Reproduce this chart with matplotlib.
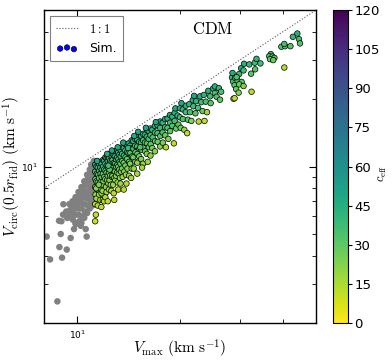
import matplotlib
matplotlib.use("Agg")
import matplotlib.pyplot as plt
from matplotlib.ticker import FixedLocator, NullFormatter, LogFormatterMathtext

plt.rcParams['mathtext.fontset'] = 'cm'
plt.rcParams['font.family'] = ['DejaVu Sans']

# ---------------- data ----------------
sim_vmax = [
    11.3, 11.3, 11.32, 11.3, 11.33, 11.3, 11.35, 11.3, 11.4, 11.42,
    11.4, 11.45, 11.4, 11.5, 11.5, 11.52, 11.5, 11.55, 11.5, 11.6,
    11.62, 11.6, 11.65, 11.6, 11.7, 11.7, 11.72, 11.7, 11.75, 11.7,
    11.8, 11.82, 11.8, 11.85, 11.8, 11.9, 11.92, 11.9, 11.95, 11.9,
    12.0, 12.0, 12.02, 12.0, 12.0, 11.45, 11.38, 11.58, 11.78, 11.88,
    12.1, 12.1, 12.12, 12.1, 12.15, 12.1, 12.2, 12.22, 12.2, 12.25,
    12.2, 12.3, 12.3, 12.32, 12.3, 12.35, 12.3, 12.4, 12.42, 12.4,
    12.45, 12.4, 12.5, 12.5, 12.52, 12.5, 12.55, 12.6, 12.62, 12.6,
    12.65, 12.6, 12.7, 12.7, 12.72, 12.7, 12.75, 12.8, 12.82, 12.8,
    12.85, 12.8, 12.9, 12.9, 12.92, 12.9, 12.95, 13.0, 13.0, 13.0,
    12.25, 12.65, 12.45, 12.85, 12.35,
    13.1, 13.1, 13.12, 13.1, 13.15, 13.2, 13.22, 13.2, 13.25, 13.2,
    13.3, 13.3, 13.32, 13.3, 13.35, 13.4, 13.42, 13.4, 13.45, 13.4,
    13.55, 13.55, 13.57, 13.55, 13.6, 13.7, 13.72, 13.7, 13.75, 13.7,
    13.85, 13.85, 13.87, 13.85, 13.9, 14.0, 14.02, 14.0, 14.05, 14.15,
    14.15, 14.2, 14.2, 14.3, 14.32, 14.3, 14.45, 14.45, 14.47, 14.45,
    13.95, 14.4, 13.65, 13.15, 14.1,
    14.6, 14.62, 14.6, 14.65, 14.8, 14.8, 14.82, 14.8, 15.0, 15.0,
    15.02, 15.0, 15.0, 15.2, 15.2, 15.22, 15.2, 15.4, 15.4, 15.42,
    15.4, 15.6, 15.6, 15.62, 15.6, 15.8, 15.8, 15.82, 16.0, 16.0,
    16.02, 16.0, 16.2, 16.2, 16.22, 16.4, 16.4, 16.42, 16.4, 15.1,
    15.5, 16.1, 14.7, 15.9, 15.3,
    16.6, 16.65, 16.6, 16.9, 16.9, 16.92, 16.9, 17.2, 17.2, 17.22,
    17.5, 17.5, 17.52, 17.5, 17.8, 17.8, 17.82, 18.1, 18.1, 18.12,
    18.2, 18.4, 18.4, 18.7, 18.7, 18.72, 19.0, 19.0, 19.2, 19.3,
    19.3, 19.5, 17.0, 18.5, 19.4,
    19.7, 19.8, 20.0, 20.0, 20.1, 20.4, 20.4, 20.6, 20.8, 20.8,
    21.1, 21.3, 21.4, 21.6, 21.8, 21.9, 22.2, 22.3, 22.6, 22.7,
    22.9, 23.1, 23.3, 23.5, 23.8, 24.0, 20.2, 21.0, 22.0, 23.6,
    24.5, 24.6, 25.0, 25.3, 25.3, 25.6, 26.0, 26.2, 26.4, 24.2,
    28.4, 28.6, 28.9, 29.0, 29.2, 29.5, 29.7, 29.8, 30.2, 30.3,
    28.7, 28.5,
    30.8, 31.9, 33.1, 34.4, 33.2, 32.3, 30.7, 32.4, 28.9, 36.9,
    36.5, 37.3, 37.8, 36.7, 37.5, 40.4, 39.6, 40.6, 42.1, 40.4,
    44.1, 42.8, 44.6, 44.9, 29.3, 29.8, 30.7, 33.5,
]
sim_vcirc = [
    10.2, 9.5, 8.8, 8.1, 7.5, 6.8, 6.1, 5.7, 10.0, 9.3,
    8.6, 7.9, 7.2, 10.5, 9.9, 9.2, 8.5, 7.9, 6.7, 10.3,
    9.6, 8.9, 8.3, 7.5, 10.5, 9.9, 9.3, 8.5, 7.9, 7.1,
    10.3, 9.7, 9.0, 8.3, 7.6, 10.7, 10.0, 9.3, 8.6, 7.1,
    10.6, 9.7, 9.0, 7.9, 7.0, 10.6, 8.0, 8.3, 6.6, 7.8,
    11.0, 10.3, 9.6, 8.8, 8.1, 7.3, 10.9, 10.1, 9.4, 8.7,
    7.7, 11.1, 10.6, 9.9, 9.1, 8.4, 7.0, 10.9, 10.2, 9.4,
    8.7, 7.9, 11.4, 10.6, 9.9, 9.1, 8.3, 11.2, 10.5, 9.7,
    9.0, 7.8, 11.4, 10.7, 9.9, 9.1, 8.3, 11.3, 10.4, 9.6,
    8.9, 7.6, 11.7, 11.1, 10.3, 9.5, 8.7, 10.8, 10.0, 9.1,
    11.4, 11.8, 9.7, 7.1, 10.1,
    11.8, 11.0, 10.2, 9.4, 8.5, 11.6, 10.8, 10.0, 9.3, 7.9,
    12.1, 11.3, 10.5, 9.7, 8.9, 11.9, 11.1, 10.3, 9.5, 8.4,
    12.2, 11.4, 10.6, 9.8, 9.0, 12.1, 11.2, 10.4, 9.5, 7.9,
    12.6, 11.8, 11.0, 10.1, 9.2, 12.5, 11.6, 10.8, 9.8, 12.7,
    11.5, 10.5, 9.1, 12.4, 11.5, 10.3, 13.1, 12.1, 11.1, 9.8,
    8.4, 8.9, 12.8, 12.2, 12.1,
    13.0, 12.0, 11.0, 9.8, 13.3, 12.4, 11.6, 10.5, 13.2, 12.3,
    11.4, 10.4, 9.3, 13.8, 12.9, 12.0, 11.1, 13.7, 12.8, 11.9,
    10.8, 14.0, 13.1, 12.2, 10.3, 13.9, 12.8, 11.7, 14.6, 13.6,
    12.7, 11.4, 14.4, 13.3, 12.2, 14.8, 13.8, 12.6, 11.2, 14.3,
    9.9, 10.5, 13.7, 14.9, 12.2,
    14.6, 13.5, 12.1, 15.2, 14.2, 13.0, 11.7, 15.3, 14.1, 12.9,
    15.9, 14.9, 13.7, 12.3, 15.7, 14.2, 12.8, 16.3, 15.0, 13.8,
    12.2, 16.4, 14.9, 17.0, 15.7, 14.4, 16.7, 15.2, 12.7, 17.4,
    16.0, 14.8, 15.8, 13.3, 18.2,
    16.9, 15.4, 18.2, 16.6, 14.9, 18.0, 16.3, 14.6, 18.7, 17.5,
    16.2, 19.0, 17.5, 16.0, 19.8, 18.6, 17.3, 19.6, 18.3, 15.9,
    20.6, 19.4, 17.7, 20.9, 19.5, 17.5, 19.2, 14.1, 20.7, 16.0,
    20.6, 19.2, 22.3, 22.8, 21.3, 20.5, 22.4, 19.9, 21.6, 21.8,
    25.0, 24.0, 23.1, 24.9, 22.2, 24.2, 21.4, 25.9, 27.5, 23.9,
    20.1, 26.2,
    28.8, 28.6, 29.1, 28.9, 27.2, 26.0, 26.9, 21.6, 20.2, 31.8,
    31.1, 31.0, 30.6, 30.2, 29.9, 27.7, 34.3, 34.5, 34.5, 35.3,
    39.3, 38.0, 37.1, 35.5, 25.1, 23.3, 22.9, 30.3,
]
sim_ceff = [
    44, 37, 31, 24, 19, 15, 11, 10, 42, 34,
    28, 22, 18, 45, 39, 33, 27, 21, 14, 43,
    36, 30, 24, 19, 44, 38, 32, 26, 20, 16,
    40, 34, 29, 23, 18, 44, 37, 31, 25, 15,
    42, 34, 28, 19, 13, 48, 23, 24, 12, 19,
    45, 38, 32, 26, 20, 15, 43, 36, 30, 24,
    17, 44, 39, 33, 27, 21, 12, 42, 35, 29,
    23, 18, 45, 38, 32, 26, 19, 43, 36, 30,
    24, 16, 44, 37, 31, 25, 19, 42, 34, 28,
    22, 14, 45, 39, 33, 27, 20, 36, 30, 23,
    48, 49, 31, 11, 35,
    44, 37, 31, 25, 19, 42, 35, 29, 23, 14,
    45, 38, 32, 26, 20, 43, 36, 30, 24, 17,
    44, 37, 31, 25, 19, 42, 35, 29, 22, 13,
    45, 38, 32, 26, 19, 43, 36, 30, 23, 44,
    34, 27, 18, 40, 33, 25, 45, 37, 30, 21,
    15, 16, 49, 48, 39,
    43, 35, 28, 20, 44, 37, 31, 24, 42, 35,
    29, 22, 16, 45, 38, 32, 26, 43, 36, 30,
    23, 44, 37, 31, 19, 42, 34, 27, 45, 38,
    32, 24, 43, 35, 28, 44, 37, 30, 21, 50,
    18, 19, 48, 49, 33,
    42, 34, 26, 44, 37, 30, 22, 43, 35, 28,
    45, 38, 31, 23, 42, 33, 25, 44, 36, 29,
    14, 43, 34, 45, 37, 30, 42, 33, 12, 44,
    36, 29, 48, 24, 50,
    39, 31, 45, 36, 27, 42, 33, 19, 44, 37,
    30, 43, 35, 23, 45, 38, 31, 42, 34, 14,
    44, 37, 29, 43, 35, 18, 49, 13, 48, 12,
    37, 31, 43, 44, 36, 33, 39, 29, 34, 44,
    40, 36, 33, 38, 29, 34, 23, 39, 45, 32,
    14, 46,
    44, 40, 38, 36, 33, 31, 37, 14, 12, 36,
    34, 33, 31, 30, 29, 14, 34, 33, 31, 36,
    44, 40, 37, 33, 33, 28, 23, 42,
]

gray_vmax = [
    11.3, 11.25, 11.3, 11.28, 11.3, 11.25, 11.32,
    11.1, 11.15, 11.1, 11.12, 11.1, 11.15, 11.1,
    10.9, 10.95, 10.9, 10.92, 10.9, 10.95, 10.9,
    10.7, 10.75, 10.7, 10.72, 10.7, 10.75, 10.7,
    10.5, 10.55, 10.5, 10.52, 10.5, 10.55, 10.5,
    10.3, 10.35, 10.3, 10.32, 10.3, 10.35, 10.3,
    10.1, 10.15, 10.1, 10.12, 10.1, 10.15,
    9.9, 9.95, 9.9, 9.92, 9.9,
    9.7, 9.75, 9.7, 9.72,
    9.5, 9.55, 9.5,
    9.3, 9.35, 9.1, 9.0,
    8.15, 8.34, 8.76, 8.88, 9.04, 9.33, 9.58, 10.67, 8.96, 8.86,
    9.12, 9.91, 9.8, 10.6, 10.25, 9.58, 11.0, 11.2,
]
gray_vcirc = [
    10.4, 9.9, 9.3, 8.7, 8.1, 7.6, 7.2,
    10.1, 9.6, 9.0, 8.4, 7.8, 7.2, 6.7,
    9.7, 9.2, 8.7, 8.1, 7.5, 7.0, 6.5,
    9.2, 8.8, 8.3, 7.7, 7.2, 6.7, 6.2,
    8.6, 8.2, 7.8, 7.3, 6.8, 6.3, 5.9,
    8.1, 7.7, 7.3, 6.9, 6.5, 6.0, 5.6,
    7.7, 7.3, 6.9, 6.5, 6.1, 5.7,
    7.3, 6.9, 6.5, 6.1, 5.6,
    7.0, 6.6, 6.2, 5.8,
    6.8, 6.4, 6.0,
    6.3, 5.9, 6.1, 5.7,
    4.87, 3.85, 2.50, 4.37, 3.92, 4.26, 4.80, 4.87, 5.0, 5.73,
    6.79, 5.54, 5.26, 5.26, 5.44, 5.93, 10.2, 10.6,
]

one_to_one = [1.0, 100.0]
cbar_ticks = [0, 15, 30, 45, 60, 75, 90, 105, 120]

# ---------------- figure ----------------
fig = plt.figure(figsize=(3.92, 3.61), dpi=100)
ax = fig.add_axes([0.112, 0.105, 0.694, 0.867])
cax = fig.add_axes([0.849, 0.105, 0.039, 0.867])

ax.plot(one_to_one, one_to_one, ls=':', color='0.35', lw=0.8, label=r'$1:1$', zorder=1)
ax.scatter(gray_vmax, gray_vcirc, s=22, c='grey', edgecolors='none', zorder=2)
sc = ax.scatter(sim_vmax, sim_vcirc, s=16, c=sim_ceff, cmap='viridis_r', vmin=0, vmax=120,
                edgecolors='k', linewidths=0.5, zorder=3)
ax.scatter([], [], s=16, c='blue', edgecolors='k', linewidths=0.4, label='Sim.')

ax.set_xscale('log')
ax.set_yscale('log')
ax.set_xlim(8, 50)
ax.set_ylim(2, 50)

ax.xaxis.set_major_locator(FixedLocator([10]))
ax.xaxis.set_minor_locator(FixedLocator([20, 30, 40]))
ax.yaxis.set_major_locator(FixedLocator([10]))
ax.yaxis.set_minor_locator(FixedLocator([3, 4, 5, 6, 7, 8, 9, 20, 30, 40]))
ax.xaxis.set_major_formatter(LogFormatterMathtext())
ax.yaxis.set_major_formatter(LogFormatterMathtext())
ax.xaxis.set_minor_formatter(NullFormatter())
ax.yaxis.set_minor_formatter(NullFormatter())
ax.tick_params(which='both', direction='in', top=True, right=True, labelsize=6.5)
ax.tick_params(which='major', length=5, width=0.8, pad=4)
ax.tick_params(which='minor', length=3, width=0.6)
for sp in ax.spines.values():
    sp.set_linewidth(1.0)

ax.set_xlabel(r'$V_{\rm max}\ (\rm km\ s^{-1})$', fontsize=11)
ax.set_ylabel(r'$V_{\rm circ}(0.5r_{\rm fid})\ (\rm km\ s^{-1})$', fontsize=11)
ax.xaxis.set_label_coords(0.5, -0.048)
ax.yaxis.set_label_coords(-0.078, 0.5)

ax.text(0.62, 0.94, r'$\rm CDM$', transform=ax.transAxes, fontsize=12,
        ha='center', va='center')

leg = ax.legend(loc='upper left', fontsize=9, scatterpoints=3, fancybox=False,
                edgecolor='0.5', framealpha=1, borderpad=0.5, handlelength=1.7,
                handletextpad=0.9, labelspacing=0.5, borderaxespad=0.5)
leg.get_frame().set_linewidth(0.8)

cb = fig.colorbar(sc, cax=cax, ticks=cbar_ticks)
cb.ax.tick_params(labelsize=9.5, length=3, pad=1.5)
cb.outline.set_linewidth(0.8)
fig.text(0.977, 0.52, r'$c_{\rm eff}$', fontsize=9, rotation=90, ha='center', va='center')

fig.savefig('out.png', dpi=100)
